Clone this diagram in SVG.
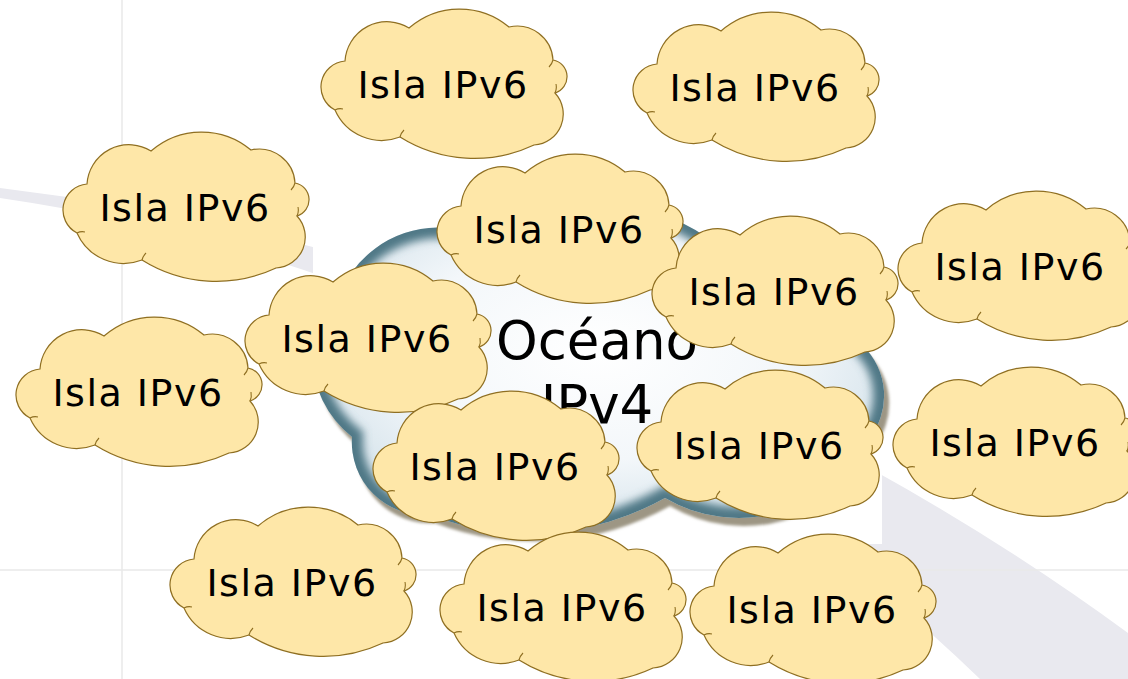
<svg xmlns="http://www.w3.org/2000/svg" xmlns:xlink="http://www.w3.org/1999/xlink" width="1128" height="679" viewBox="0 0 1128 679">
  <style>
    .isla { fill: #fee7a8; stroke: #8f6f22; stroke-width: 1.2; }
    .tick { fill: none; stroke: #8f6f22; stroke-width: 1.1; }
    .lbl { font-family: "DejaVu Sans", Verdana, sans-serif; font-size: 38px; letter-spacing: 1.5px; fill: #000; text-anchor: middle; }
    .big { font-family: "DejaVu Sans", Verdana, sans-serif; font-size: 53px; fill: #000; text-anchor: middle; }
    .grid { stroke: #e9e9e9; stroke-width: 1.5; fill: none; }
  </style>
  <defs>
    <!-- island cloud outline, 248 x 149 local box -->
    <path id="cloud" d="M24,52 A42,42 0 0 1 88,19 A77,77 0 0 1 188,18 A36,36 0 0 1 232,51 A17,17 0 0 1 234,84 A31,31 0 0 1 213,136 A140,140 0 0 1 79,128 A51,51 0 0 1 14,101 A26,26 0 0 1 24,52 Z"/>
    <!-- small inner creases at the lobe joints -->
    <path id="creases" d="M232,51 q-1,4 -4,7 M234,84 q2,-4 1,-9 M14,101 q4,-2 8,-1 M79,128 q1,-4 4,-7"/>
    <g id="island">
      <use xlink:href="#cloud" class="isla"/>
      <use xlink:href="#creases" class="tick"/>
      <text class="lbl" x="122" y="89">Isla IPv6</text>
    </g>
    <!-- ocean cloud outline, absolute coordinates -->
    <path id="oceanShape" d="M352,272 A107,107 0 0 1 470,232 A220,220 0 0 1 708,238 A130,130 0 0 1 862,345 A69,69 0 0 1 868,440 A146,146 0 0 1 665,498 A278,278 0 0 1 430,515 A73,73 0 0 1 352,437 A105,105 0 0 1 352,272 Z"/>
    <clipPath id="oceanClip"><use xlink:href="#oceanShape"/></clipPath>
    <radialGradient id="oceanFill" cx="50%" cy="45%" r="60%">
      <stop offset="0" stop-color="#ffffff"/>
      <stop offset="0.55" stop-color="#f3f7fa"/>
      <stop offset="0.85" stop-color="#dbe7ee"/>
      <stop offset="1" stop-color="#bcd1da"/>
    </radialGradient>
    <filter id="rimBlur" x="-10%" y="-10%" width="120%" height="120%">
      <feGaussianBlur stdDeviation="4.5"/>
    </filter>
    <filter id="shadowBlur" x="-10%" y="-10%" width="120%" height="120%">
      <feGaussianBlur stdDeviation="1.5"/>
    </filter>
  </defs>

  <!-- page background -->
  <rect width="1128" height="679" fill="#ffffff"/>

  <!-- background swoosh and guide lines -->
  <g id="backdrop">
    <path d="M0,188 A2394,2394 0 0 1 1128,633 L1128,679 L980,679 A1780,1780 0 0 0 0,198 Z" fill="#e9e9ef"/>
    <rect x="313" y="180" width="569" height="364" fill="#ffffff"/>
    <line class="grid" x1="122" y1="0" x2="122" y2="679"/>
    <line class="grid" x1="0" y1="570" x2="1128" y2="570"/>
  </g>

  <!-- central IPv4 ocean -->
  <g id="ocean">
    <use xlink:href="#oceanShape" fill="#9d9684" transform="translate(5,8)" filter="url(#shadowBlur)"/>
    <use xlink:href="#oceanShape" fill="url(#oceanFill)"/>
    <g clip-path="url(#oceanClip)">
      <use xlink:href="#oceanShape" fill="none" stroke="#4f7886" stroke-width="22" filter="url(#rimBlur)"/>
    </g>
    <text class="big" x="597" y="359">Océano</text>
    <text class="big" x="597" y="423">IPv4</text>
  </g>

  <!-- IPv6 islands -->
  <g id="isla1"><use xlink:href="#island" transform="translate(321,9)"/></g>
  <g id="isla2"><use xlink:href="#island" transform="translate(633,12)"/></g>
  <g id="isla3"><use xlink:href="#island" transform="translate(63,132)"/></g>
  <g id="isla5"><use xlink:href="#island" transform="translate(898,191)"/></g>
  <g id="isla8"><use xlink:href="#island" transform="translate(16,317)"/></g>
  <g id="isla11"><use xlink:href="#island" transform="translate(893,367)"/></g>
  <g id="isla12"><use xlink:href="#island" transform="translate(170,507)"/></g>
  <g id="isla14"><use xlink:href="#island" transform="translate(690,534)"/></g>
  <g id="isla4"><use xlink:href="#island" transform="translate(437,154)"/></g>
  <g id="isla7"><use xlink:href="#island" transform="translate(245,263)"/></g>
  <g id="isla6"><use xlink:href="#island" transform="translate(652,216)"/></g>
  <g id="isla9"><use xlink:href="#island" transform="translate(373,391)"/></g>
  <g id="isla10"><use xlink:href="#island" transform="translate(637,370)"/></g>
  <g id="isla13"><use xlink:href="#island" transform="translate(440,532)"/></g>

  <!-- no connectors between the clouds -->
  <g id="connectors"/>
</svg>
